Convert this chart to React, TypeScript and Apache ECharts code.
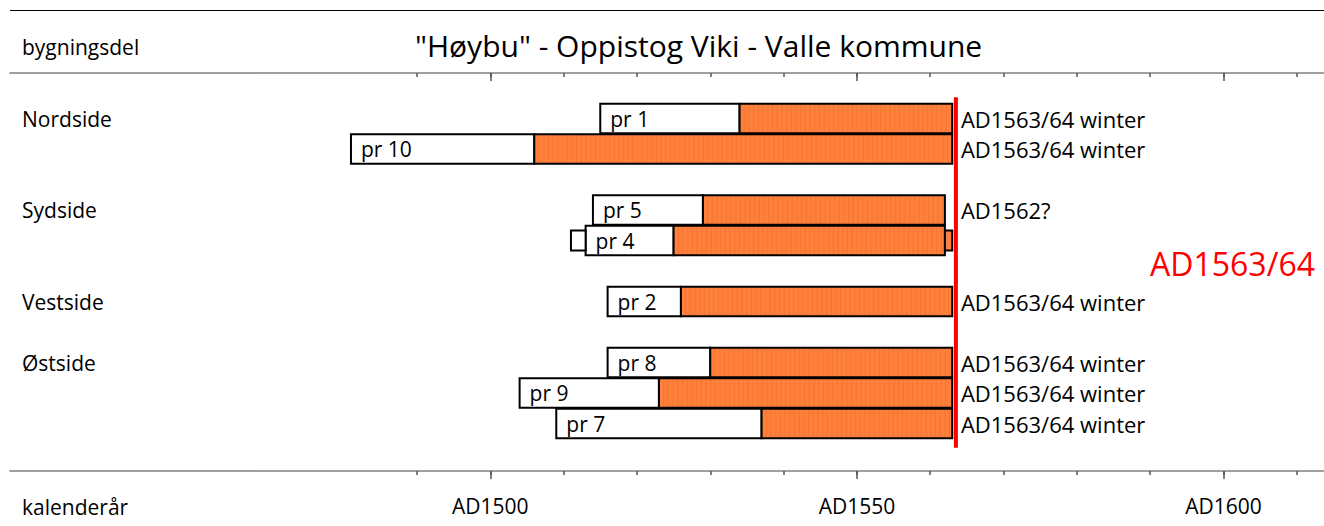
import React, { useEffect, useRef } from "react";
import * as echarts from "echarts";

// ---- data ----
const chartTitle = "\"Høybu\" - Oppistog Viki - Valle kommune";
const rowHeader = "bygningsdel";
const axisHeader = "kalenderår";
const slots = ["pr 1", "pr 10", "gap-a", "pr 5", "pr 4", "gap-b", "pr 2", "gap-c", "pr 8", "pr 9", "pr 7"];
const groupLabels = ["Nordside", "", "", "Sydside", "", "", "Vestside", "", "Østside", "", ""];
const samples = ["pr 1", "pr 10", "pr 5", "pr 4", "pr 2", "pr 8", "pr 9", "pr 7"];
const firstRing = [1515, 1481, 1514, 1513, 1516, 1516, 1504, 1509];
const sapwoodStart = [1534, 1506, 1529, 1525, 1526, 1530, 1523, 1537];
const lastRing = [1563, 1563, 1562, 1562, 1563, 1563, 1563, 1563];
const datings = [
  "AD1563/64 winter",
  "AD1563/64 winter",
  "AD1562?",
  "",
  "AD1563/64 winter",
  "AD1563/64 winter",
  "AD1563/64 winter",
  "AD1563/64 winter",
];
const looseSamples = ["pr 4", "pr 4"];
const looseFrom = [1511, 1562];
const looseTo = [1513, 1563];
const looseIsSapwood = [false, true];
const fellingYear = 1563.5;
const fellingLabel = "AD1563/64";
const yearLabels = [1500, 1550, 1600];
const minorTicks = [1490, 1500, 1510, 1520, 1530, 1540, 1550, 1560, 1570, 1580, 1590, 1600, 1610];

const FONT = "'Open Sans', sans-serif";
const ORANGE = "#FF7F3C";
const STRIPE = "#F4782C";

export default function App() {
  const ref = useRef<HTMLDivElement>(null);

  useEffect(() => {
    if (!ref.current) return;
    const chart = echarts.init(ref.current, undefined, { renderer: "svg" });

    const barData = samples.map((s, i) => [slots.indexOf(s), firstRing[i], sapwoodStart[i], lastRing[i]]);
    const looseData = looseSamples.map((s, i) => [slots.indexOf(s), looseFrom[i], looseTo[i], looseIsSapwood[i] ? 1 : 0]);

    const xMin = 1434.5;
    const xMax = 1613.7;

    const baseX = {
      type: "value",
      min: xMin,
      max: xMax,
      splitLine: { show: false },
    };

    const stripes = (x0: number, x1: number, y: number, h: number) => {
      const out: any[] = [];
      for (let x = x0 + 4.7; x < x1 - 2; x += 4.7) {
        out.push({
          type: "line",
          shape: { x1: x, y1: y + 1, x2: x, y2: y + h - 1 },
          style: { stroke: STRIPE, lineWidth: 1 },
          silent: true,
        });
      }
      return out;
    };

    const option: any = {
      animation: false,
      backgroundColor: "#ffffff",
      title: {
        text: chartTitle,
        left: 415,
        top: 27,
        padding: 0,
        textStyle: { fontSize: 30, fontWeight: "normal", color: "#000", fontFamily: FONT, lineHeight: 36 },
      },
      grid: { left: 10, right: 0, top: 103.25, height: 335.5, containLabel: false, outerBoundsMode: "none" },
      xAxis: [
        {
          ...baseX,
          position: "bottom",
          offset: 32.25,
          axisLine: { show: true, lineStyle: { color: "#808080", width: 1.5 } },
          axisTick: { show: true, customValues: minorTicks, length: 4, lineStyle: { color: "#555", width: 1.5 } },
          axisLabel: {
            show: true,
            customValues: yearLabels,
            formatter: (v: number) => "AD" + v,
            margin: 24,
            fontSize: 21,
            color: "#000",
            fontFamily: FONT,
          },
        },
        {
          ...baseX,
          position: "bottom",
          offset: 32.25,
          axisLine: { show: false },
          axisTick: { show: true, customValues: yearLabels, length: 8, lineStyle: { color: "#555", width: 1.5 } },
          axisLabel: { show: false },
        },
        {
          ...baseX,
          position: "top",
          offset: 30.25,
          axisLine: { show: true, lineStyle: { color: "#808080", width: 1.5 } },
          axisTick: { show: true, inside: true, customValues: minorTicks, length: 4, lineStyle: { color: "#555", width: 1.5 } },
          axisLabel: { show: false },
        },
        {
          ...baseX,
          position: "top",
          offset: 30.25,
          axisLine: { show: false },
          axisTick: { show: true, inside: true, customValues: yearLabels, length: 8, lineStyle: { color: "#555", width: 1.5 } },
          axisLabel: { show: false },
        },
      ],
      yAxis: {
        type: "category",
        data: slots,
        inverse: true,
        axisLine: { show: false },
        axisTick: { show: false },
        splitLine: { show: false },
        axisLabel: {
          inside: true,
          margin: 12,
          interval: 0,
          align: "left",
          formatter: (_v: string, i: number) => groupLabels[i],
          fontSize: 21,
          color: "#000",
          fontFamily: FONT,
        },
      },
      graphic: [
        { type: "line", shape: { x1: 10, y1: 10.5, x2: 1324, y2: 10.5 }, style: { stroke: "#000", lineWidth: 1 } },
        {
          type: "text",
          x: 22,
          y: 47,
          style: { text: rowHeader, fontSize: 21, fontFamily: FONT, fill: "#000", align: "left", verticalAlign: "middle" },
        },
        {
          type: "text",
          x: 22,
          y: 507,
          style: { text: axisHeader, fontSize: 21, fontFamily: FONT, fill: "#000", align: "left", verticalAlign: "middle" },
        },
        {
          type: "text",
          x: 1150,
          y: 263,
          style: { text: fellingLabel, fontSize: 32, fontFamily: FONT, fill: "#FF0000", align: "left", verticalAlign: "middle" },
        },
      ],
      series: [
        {
          type: "custom",
          name: "samples",
          xAxisIndex: 0,
          yAxisIndex: 0,
          encode: { x: [1, 2, 3], y: 0 },
          data: barData,
          renderItem: (params: any, api: any) => {
            const row = api.value(0);
            const s = api.coord([api.value(1), row]);
            const w = api.coord([api.value(2), row]);
            const e = api.coord([api.value(3), row]);
            const f = api.coord([fellingYear, row]);
            const band = api.size([0, 1])[1];
            const h = band * 0.96;
            const y = s[1] - h / 2;
            const idx = params.dataIndex;
            return {
              type: "group",
              children: [
                {
                  type: "rect",
                  shape: { x: s[0], y, width: w[0] - s[0], height: h },
                  style: { fill: "#fff", stroke: "#000", lineWidth: 2 },
                },
                {
                  type: "rect",
                  shape: { x: w[0], y, width: e[0] - w[0], height: h },
                  style: { fill: ORANGE, stroke: "none" },
                },
                ...stripes(w[0], e[0], y, h),
                {
                  type: "rect",
                  shape: { x: w[0], y, width: e[0] - w[0], height: h },
                  style: { fill: "none", stroke: "#000", lineWidth: 2 },
                },
                {
                  type: "text",
                  x: s[0] + 10,
                  y: s[1],
                  style: { text: samples[idx], fontSize: 21, fontFamily: FONT, fill: "#000", align: "left", verticalAlign: "middle" },
                },
                {
                  type: "text",
                  x: f[0] + 5,
                  y: s[1],
                  style: { text: datings[idx], fontSize: 22, fontFamily: FONT, fill: "#000", align: "left", verticalAlign: "middle" },
                },
              ],
            };
          },
        },
        {
          type: "custom",
          name: "loose rings",
          xAxisIndex: 0,
          yAxisIndex: 0,
          encode: { x: [1, 2], y: 0 },
          data: looseData,
          renderItem: (_params: any, api: any) => {
            const row = api.value(0);
            const a = api.coord([api.value(1), row]);
            const b = api.coord([api.value(2), row]);
            const band = api.size([0, 1])[1];
            const h = band * 0.66;
            return {
              type: "rect",
              shape: { x: a[0], y: a[1] - h / 2, width: b[0] - a[0], height: h },
              style: { fill: api.value(3) ? ORANGE : "#fff", stroke: "#000", lineWidth: 2 },
            };
          },
        },
        {
          type: "custom",
          name: "felling",
          xAxisIndex: 0,
          yAxisIndex: 0,
          encode: { x: 0 },
          data: [[fellingYear]],
          z: 5,
          renderItem: (params: any, api: any) => {
            const cs = params.coordSys;
            const x = api.coord([api.value(0), 0])[0];
            return {
              type: "line",
              shape: { x1: x, y1: cs.y - 6, x2: x, y2: cs.y + cs.height + 9 },
              style: { stroke: "#FF0000", lineWidth: 4 },
            };
          },
        },
      ],
    };

    chart.setOption(option);
    return () => chart.dispose();
  }, []);

  return (
    <div
      ref={ref}
      style={{ position: "absolute", left: 0, top: 0, width: 1324, height: 526, background: "#fff" }}
    />
  );
}
